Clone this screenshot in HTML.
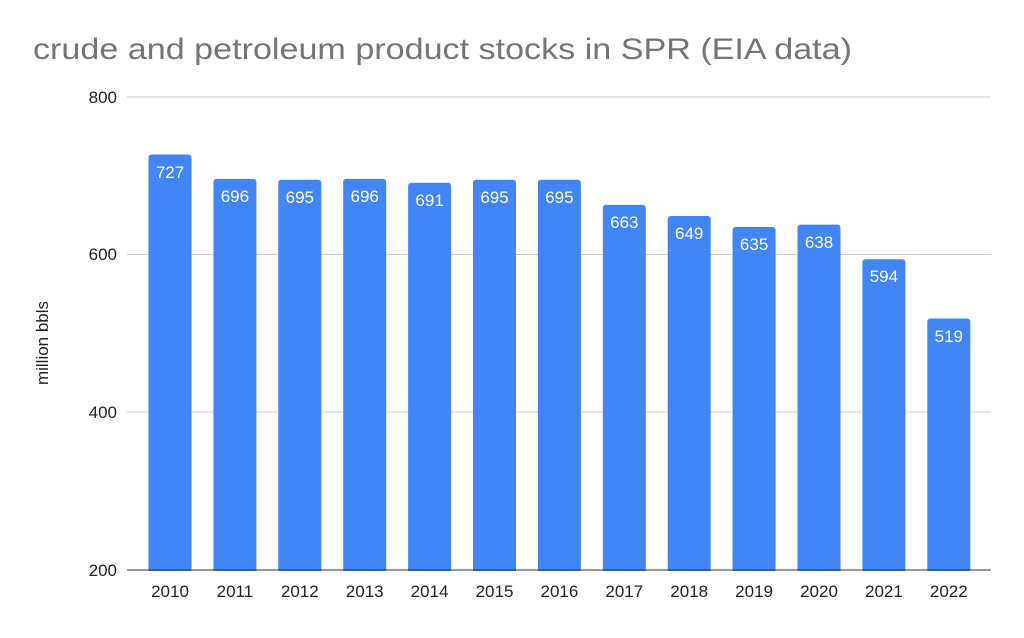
<!DOCTYPE html>
<html><head><meta charset="utf-8"><style>body{margin:0;background:#fff}</style></head><body>
<svg width="1024" height="633" xmlns="http://www.w3.org/2000/svg" font-family="Liberation Sans, Arial, sans-serif">
<rect width="1024" height="633" fill="#fff"/>
<text x="33" y="59" font-size="30" fill="#757575" textLength="819" lengthAdjust="spacingAndGlyphs">crude and petroleum product stocks in SPR (EIA data)</text>
<g stroke="#cccccc" stroke-width="1">
<line x1="127" y1="97" x2="991" y2="97"/>
<line x1="127" y1="254.5" x2="991" y2="254.5"/>
<line x1="127" y1="412" x2="991" y2="412"/>
</g>
<g font-size="17" fill="#222" text-anchor="end">
<text x="117" y="103">800</text>
<text x="117" y="260">600</text>
<text x="117" y="418">400</text>
<text x="117" y="576">200</text>
</g>
<text transform="translate(48,343) rotate(-90)" font-size="17" fill="#222" text-anchor="middle">million bbls</text>
<g fill="#4285f4">
<rect x="148.5" y="154.5" width="43" height="420" rx="3"/>
<rect x="213.4" y="178.9" width="43" height="396" rx="3"/>
<rect x="278.3" y="179.7" width="43" height="395" rx="3"/>
<rect x="343.2" y="178.9" width="43" height="396" rx="3"/>
<rect x="408.1" y="182.8" width="43" height="392" rx="3"/>
<rect x="473.0" y="179.7" width="43" height="395" rx="3"/>
<rect x="537.9" y="179.7" width="43" height="395" rx="3"/>
<rect x="602.8" y="204.9" width="43" height="370" rx="3"/>
<rect x="667.7" y="216.0" width="43" height="359" rx="3"/>
<rect x="732.6" y="227.0" width="43" height="348" rx="3"/>
<rect x="797.5" y="224.6" width="43" height="350" rx="3"/>
<rect x="862.4" y="259.3" width="43" height="315" rx="3"/>
<rect x="927.3" y="318.5" width="43" height="256" rx="3"/>
</g>
<rect x="120" y="571" width="880" height="10" fill="#fff"/>
<line x1="127" y1="570" x2="991" y2="570" stroke="#333" stroke-width="1"/>
<g font-size="17" fill="#fff" text-anchor="middle">
<text x="170" y="178">727</text>
<text x="234.9" y="202">696</text>
<text x="299.8" y="203">695</text>
<text x="364.7" y="202">696</text>
<text x="429.6" y="206">691</text>
<text x="494.5" y="203">695</text>
<text x="559.4" y="203">695</text>
<text x="624.3" y="228">663</text>
<text x="689.2" y="239">649</text>
<text x="754.1" y="250">635</text>
<text x="819" y="248">638</text>
<text x="883.9" y="282">594</text>
<text x="948.8" y="342">519</text>
</g>
<g font-size="17" fill="#222" text-anchor="middle">
<text x="170" y="597">2010</text>
<text x="234.9" y="597">2011</text>
<text x="299.8" y="597">2012</text>
<text x="364.7" y="597">2013</text>
<text x="429.6" y="597">2014</text>
<text x="494.5" y="597">2015</text>
<text x="559.4" y="597">2016</text>
<text x="624.3" y="597">2017</text>
<text x="689.2" y="597">2018</text>
<text x="754.1" y="597">2019</text>
<text x="819" y="597">2020</text>
<text x="883.9" y="597">2021</text>
<text x="948.8" y="597">2022</text>
</g>
</svg>
</body></html>
